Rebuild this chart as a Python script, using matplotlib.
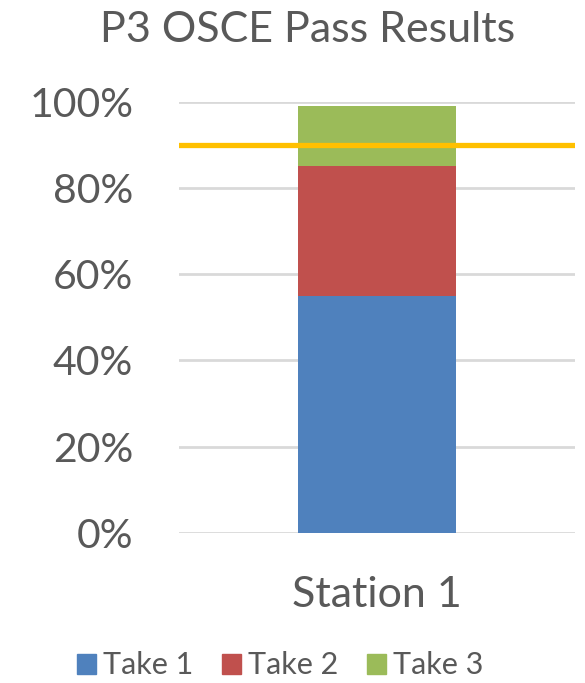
import matplotlib
matplotlib.use("Agg")
import matplotlib.pyplot as plt
from matplotlib.ticker import PercentFormatter
from matplotlib.patches import Patch

# data
categories = ["Station 1"]
take1 = [55]
take2 = [30]
take3 = [14]
series_names = ["Take 1", "Take 2", "Take 3"]
target = 90
yticks = [0, 20, 40, 60, 80, 100]

colors = ["#4F81BD", "#C0504D", "#9BBB59"]
text_col = "#595959"
plt.rcParams['font.family'] = ['Lato', 'DejaVu Sans']

fig = plt.figure(figsize=(5.85, 6.83), dpi=100)
ax = fig.add_axes([179 / 585, 1 - 533 / 683, 396 / 585, (533 - 101.7) / 683])

x = range(len(categories))
bottom = [0] * len(categories)
for vals, c in zip([take1, take2, take3], colors):
    ax.bar(x, vals, width=0.4, bottom=bottom, color=c, zorder=2)
    bottom = [b + v for b, v in zip(bottom, vals)]

ax.axhline(target, color="#FFC000", lw=3.8, zorder=3)

ax.set_xlim(-0.5, 0.5)
ax.set_ylim(0, 100)
ax.set_yticks(yticks)
ax.yaxis.set_major_formatter(PercentFormatter(decimals=0))
ax.set_xticks(list(x))
ax.set_xticklabels(categories)
ax.grid(axis="y", color="#D9D9D9", lw=2, zorder=0)
for s in ax.spines.values():
    s.set_visible(False)
ax.tick_params(axis="y", length=0, pad=33, labelsize=29.5, labelcolor=text_col)
ax.tick_params(axis="x", length=0, pad=31, labelsize=31, labelcolor=text_col)

fig.text(0.525, 1 - 42 / 683, "P3 OSCE Pass Results", ha="center", va="baseline",
         fontsize=31, color=text_col)

handles = [Patch(color=c) for c in colors]
fig.legend(handles, series_names, loc="lower center", bbox_to_anchor=(0.479, -0.035),
           ncol=3, frameon=False, fontsize=22, labelcolor=text_col,
           handlelength=0.62, handleheight=0.62, handletextpad=0.22, columnspacing=0.95)

plt.savefig("out.png", dpi=100)
plt.close("all")
